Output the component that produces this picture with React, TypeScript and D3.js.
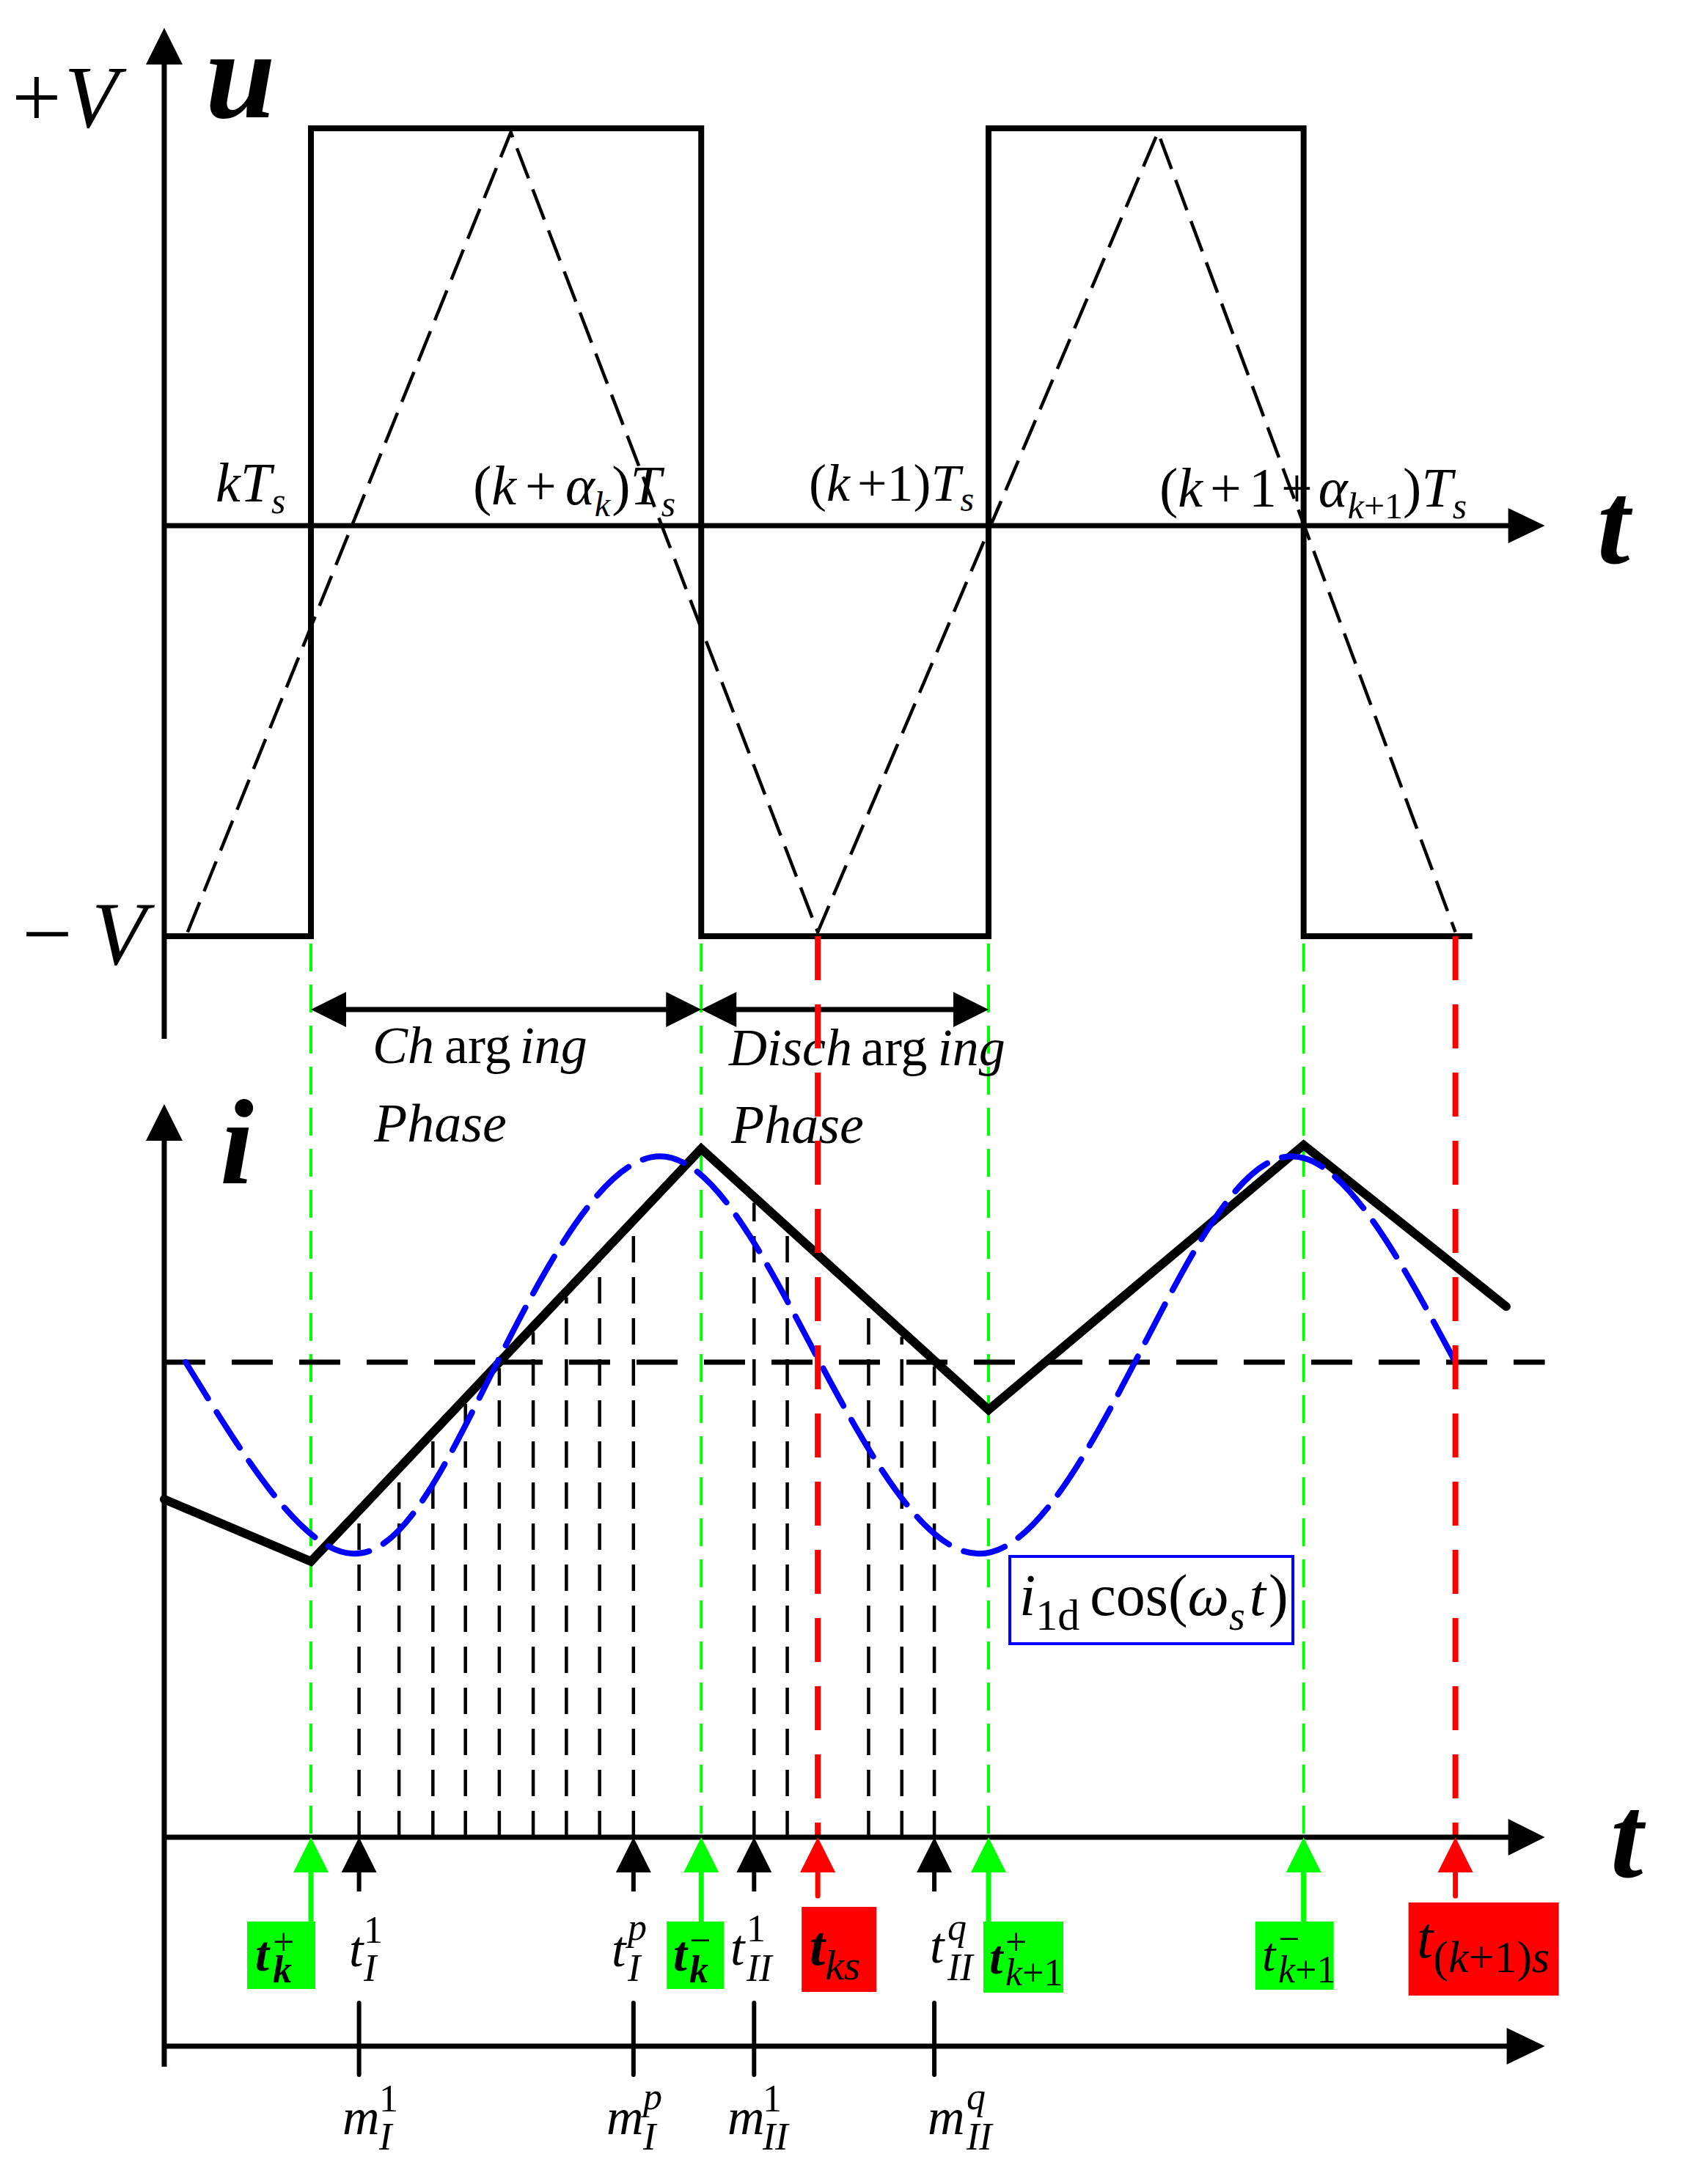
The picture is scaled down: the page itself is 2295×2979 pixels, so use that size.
import React from 'react';
import * as d3 from 'd3';

const W = 2295;
const H = 2979;
const SERIF = '"Liberation Serif", "Times New Roman", serif';
const GREEN = '#00ff00';
const RED = '#ff0000';
const BLUE = '#0000ff';

// time in units of Ts, 0 = kTs
const axisT = [-0.2165, 1.821];

// square-wave voltage u (±V)
const squareT = [-0.2165, 0, 0, 0.576, 0.576, 1, 1, 1.465, 1.465, 1.714];
const squareU = [-1, -1, 1, 1, -1, -1, 1, 1, -1, -1];

// triangular carrier (dashed)
const carrierT = [-0.182, 0.295, 0.748, 1.25, 1.689];
const carrierU = [-0.99, 0.99, -0.99, 0.99, -0.99];

// inductor current i (thick black)
const currentT = [-0.2165, 0, 0.576, 1, 1.465, 1.764];
const currentI = [-0.673, -0.978, 1.047, -0.234, 1.065, 0.273];

// i1d cos(ws t) key points (blue dashed)
const cosT = [-0.185, 0.063, 0.275, 0.515, 0.751, 0.986, 1.216, 1.446, 1.689];
const cosI = [0, -0.94, 0, 1.01, 0, -0.94, 0, 1.01, 0];

// sampling instants
const sampI = [0.071, 0.13, 0.18, 0.228, 0.278, 0.328, 0.377, 0.426, 0.476];
const sampII = [0.654, 0.703, 0.823, 0.872, 0.92];

// switching (green) and sync (red) instants
const switchT = [0, 0.576, 1, 1.465];
const syncT = [0.748, 1.689];

const x = d3.scaleLinear().domain([0, 1]).range([424, 1348]);
const yU = d3.scaleLinear().domain([-1, 0, 1]).range([1277, 717, 175]);
const yI = d3.scaleLinear().domain([0, 1]).range([1858, 1580]);
const currentAt = d3.scaleLinear().domain(currentT).range(currentI);

const AX = x(axisT[0]);
const AX_END = x(axisT[1]);
const T1_Y = yU(0);
const T2_Y = 2506;
const M_Y = 2791;

const headRight = (tx: number, y: number, len = 50, hw = 24) =>
  `${tx},${y} ${tx - len},${y - hw} ${tx - len},${y + hw}`;
const headLeft = (tx: number, y: number, len = 50, hw = 24) =>
  `${tx},${y} ${tx + len},${y - hw} ${tx + len},${y + hw}`;
const headUp = (px: number, ty: number, len = 50, hw = 24) =>
  `${px},${ty} ${px - hw},${ty + len} ${px + hw},${ty + len}`;

type Run = { s: string; i?: boolean; b?: boolean; fs?: number; sh?: number; dx?: number };

function MathText({ x: px, y, fs, runs, fill = '#000' }: { x: number; y: number; fs: number; runs: Run[]; fill?: string }) {
  let cur = 0;
  return (
    <text x={px} y={y} fontSize={fs} fontFamily={SERIF} fill={fill}>
      {runs.map((r, k) => {
        const sh = r.sh ?? 0;
        const dy = sh - cur;
        cur = sh;
        return (
          <tspan
            key={k}
            dx={r.dx}
            dy={dy !== 0 ? dy : undefined}
            fontSize={r.fs}
            fontStyle={r.i ? 'italic' : 'normal'}
            fontWeight={r.b ? 'bold' : 'normal'}
          >
            {r.s}
          </tspan>
        );
      })}
    </text>
  );
}

// base letter with stacked superscript / subscript
function Stack({ px, y, base, sup, sub, fs, sfs, sdx, supY, subY, b = false }: {
  px: number; y: number; base: string; sup: Run[]; sub: Run[]; fs: number; sfs: number;
  sdx: number; supY: number; subY: number; b?: boolean;
}) {
  return (
    <g>
      <MathText x={px} y={y} fs={fs} runs={[{ s: base, i: true, b }]} />
      <MathText x={px + sdx} y={supY} fs={sfs} runs={sup} />
      <MathText x={px + sdx} y={subY} fs={sfs} runs={sub} />
    </g>
  );
}

export default function App() {
  const sqPath = d3.line()(squareT.map((t, k) => [x(t), yU(squareU[k])]) as [number, number][]);
  const carPath = d3.line()(carrierT.map((t, k) => [x(t), yU(carrierU[k])]) as [number, number][]);
  const curPath = d3.line()(currentT.map((t, k) => [x(t), yI(currentI[k])]) as [number, number][]);
  const cosPath = d3.line().curve(d3.curveNatural)(cosT.map((t, k) => [x(t), yI(cosI[k])]) as [number, number][]);

  const samples = [...sampI, ...sampII];
  const markT = [sampI[0], sampI[sampI.length - 1], sampII[0], sampII[sampII.length - 1]];
  const chY = 1377;

  return (
    <svg width={W} height={H} viewBox={`0 0 ${W} ${H}`} style={{ position: 'absolute', left: 0, top: 0, background: '#fff' }}>
      <rect width={W} height={H} fill="#fff" />

      {/* ---------- upper panel ---------- */}
      <line x1={AX} y1={1417} x2={AX} y2={80} stroke="#000" strokeWidth={7} />
      <polygon points={headUp(AX, 38, 50, 25)} fill="#000" />
      <line x1={AX} y1={T1_Y} x2={AX_END - 40} y2={T1_Y} stroke="#000" strokeWidth={7} />
      <polygon points={headRight(AX_END, T1_Y, 50, 24)} fill="#000" />

      <path d={carPath || ''} fill="none" stroke="#000" strokeWidth={4.5} strokeDasharray="44,16" />
      <path d={sqPath || ''} fill="none" stroke="#000" strokeWidth={8} strokeLinejoin="miter" />

      <MathText x={16} y={173} fs={120} runs={[{ s: '+' }, { s: 'V', i: true, dx: 4 }]} />
      <MathText x={30} y={1315} fs={122} runs={[{ s: '\u2212' }, { s: 'V', i: true, dx: 26 }]} />
      <MathText x={280} y={160} fs={172} runs={[{ s: 'u', i: true, b: true }]} />
      <MathText x={2178} y={768} fs={160} runs={[{ s: 't', i: true, b: true }]} />

      <MathText x={294} y={684} fs={76} runs={[{ s: 'k', i: true }, { s: 'T', i: true }, { s: 's', i: true, fs: 50, sh: 16 }]} />
      <MathText
        x={645}
        y={688}
        fs={76}
        runs={[
          { s: '(' }, { s: 'k', i: true }, { s: '+', dx: 12 }, { s: '\u03b1', i: true, dx: 12 },
          { s: 'k', i: true, fs: 48, sh: 16 }, { s: ')', dx: 2 }, { s: 'T', i: true }, { s: 's', i: true, fs: 50, sh: 16 },
        ]}
      />
      <MathText
        x={1103}
        y={683}
        fs={72}
        runs={[
          { s: '(' }, { s: 'k', i: true }, { s: '+', dx: 10 }, { s: '1' }, { s: ')' },
          { s: 'T', i: true }, { s: 's', i: true, fs: 48, sh: 14 },
        ]}
      />
      <MathText
        x={1581}
        y={691}
        fs={76}
        runs={[
          { s: '(' }, { s: 'k', i: true }, { s: '+', dx: 10 }, { s: '1', dx: 10 }, { s: '+', dx: 6 },
          { s: '\u03b1', i: true, dx: 8 }, { s: 'k', i: true, fs: 50, sh: 16 }, { s: '+1', fs: 50, sh: 16 },
          { s: ')' }, { s: 'T', i: true }, { s: 's', i: true, fs: 50, sh: 16 },
        ]}
      />

      {/* switching / sync guide lines */}
      {switchT.map((t) => (
        <line key={`g${t}`} x1={x(t)} y1={1287} x2={x(t)} y2={T2_Y} stroke={GREEN} strokeWidth={4} strokeDasharray="38,18" />
      ))}

      {/* charging / discharging arrows */}
      <line x1={x(0) + 40} y1={chY} x2={x(switchT[1]) - 40} y2={chY} stroke="#000" strokeWidth={7} />
      <polygon points={headLeft(x(0), chY, 48, 24)} fill="#000" />
      <polygon points={headRight(x(switchT[1]), chY, 48, 24)} fill="#000" />
      <line x1={x(switchT[1]) + 40} y1={chY} x2={x(1) - 40} y2={chY} stroke="#000" strokeWidth={7} />
      <polygon points={headLeft(x(switchT[1]), chY, 48, 24)} fill="#000" />
      <polygon points={headRight(x(1), chY, 48, 24)} fill="#000" />

      <MathText x={508} y={1450} fs={72} runs={[{ s: 'Ch', i: true }, { s: 'arg', dx: 14 }, { s: 'ing', i: true, dx: 12 }]} />
      <MathText x={510} y={1557} fs={74} runs={[{ s: 'Phase', i: true }]} />
      <MathText x={994} y={1453} fs={72} runs={[{ s: 'Disch', i: true }, { s: 'arg', dx: 12 }, { s: 'ing', i: true, dx: 14 }]} />
      <MathText x={997} y={1559} fs={74} runs={[{ s: 'Phase', i: true }]} />

      {/* ---------- lower panel ---------- */}
      <line x1={AX} y1={2819} x2={AX} y2={1546} stroke="#000" strokeWidth={7} />
      <polygon points={headUp(AX, 1506, 50, 25)} fill="#000" />
      <MathText x={300} y={1614} fs={165} runs={[{ s: 'i', i: true, b: true }]} />

      <line x1={AX} y1={yI(0)} x2={AX_END} y2={yI(0)} stroke="#000" strokeWidth={7} strokeDasharray="56,36" />

      {samples.map((t) => (
        <line
          key={`s${t}`}
          x1={x(t)}
          y1={T2_Y}
          x2={x(t)}
          y2={yI(currentAt(t)) + 8}
          stroke="#000"
          strokeWidth={4.5}
          strokeDasharray="36,20"
        />
      ))}

      <path d={curPath || ''} fill="none" stroke="#000" strokeWidth={12} strokeLinejoin="miter" strokeLinecap="round" />
      <path d={cosPath || ''} fill="none" stroke={BLUE} strokeWidth={8} strokeDasharray="58,22" strokeLinecap="round" />

      {syncT.map((t) => (
        <line key={`r${t}`} x1={x(t)} y1={1277} x2={x(t)} y2={T2_Y} stroke={RED} strokeWidth={8} strokeDasharray="60,33" />
      ))}

      <rect x={1377} y={2123} width={386} height={119} fill="#fff" stroke={BLUE} strokeWidth={4} />
      <MathText
        x={1390}
        y={2203}
        fs={80}
        runs={[
          { s: 'i', i: true }, { s: '1d', fs: 60, sh: 20 }, { s: 'cos', dx: 14 }, { s: '(' },
          { s: '\u03c9', i: true }, { s: 's', i: true, fs: 56, sh: 20 }, { s: 't', i: true, dx: 6 }, { s: ')', dx: 4 },
        ]}
      />

      {/* sampling time axis */}
      <line x1={AX} y1={T2_Y} x2={AX_END - 40} y2={T2_Y} stroke="#000" strokeWidth={7} />
      <polygon points={headRight(AX_END, T2_Y, 50, 25)} fill="#000" />
      <MathText x={2196} y={2560} fs={160} runs={[{ s: 't', i: true, b: true }]} />

      {markT.map((t) => (
        <g key={`m${t}`}>
          <line x1={x(t)} y1={T2_Y + 40} x2={x(t)} y2={2580} stroke="#000" strokeWidth={6} />
          <polygon points={headUp(x(t), T2_Y, 48, 24)} fill="#000" />
          <line x1={x(t)} y1={2732} x2={x(t)} y2={2830} stroke="#000" strokeWidth={6} strokeLinecap="round" />
        </g>
      ))}
      {switchT.map((t) => (
        <g key={`ga${t}`}>
          <line x1={x(t)} y1={T2_Y + 40} x2={x(t)} y2={2621} stroke={GREEN} strokeWidth={7} />
          <polygon points={headUp(x(t), T2_Y, 48, 24)} fill={GREEN} />
        </g>
      ))}
      {syncT.map((t) => (
        <g key={`ra${t}`}>
          <line x1={x(t)} y1={T2_Y + 40} x2={x(t)} y2={2586} stroke={RED} strokeWidth={7} strokeLinecap="round" />
          <polygon points={headUp(x(t), T2_Y, 48, 24)} fill={RED} />
        </g>
      ))}

      {/* green / red boxes */}
      <rect x={x(switchT[0]) - 87} y={2621} width={93} height={92} fill={GREEN} />
      <Stack px={348} y={2688} base="t" b fs={68} sfs={52} sdx={24} supY={2666}
        sup={[{ s: '+' }]} sub={[{ s: 'k', i: true, b: true }]} subY={2704} />

      <rect x={x(switchT[1]) - 47} y={2621} width={78} height={92} fill={GREEN} />
      <Stack px={918} y={2688} base="t" b fs={68} sfs={52} sdx={22} supY={2664}
        sup={[{ s: '\u2212' }]} sub={[{ s: 'k', i: true, b: true }]} subY={2704} />

      <rect x={x(syncT[0]) - 22} y={2601} width={102} height={116} fill={RED} />
      <MathText x={1104} y={2680} fs={76} runs={[{ s: 't', i: true, b: true }, { s: 'ks', i: true, fs: 58, sh: 20 }]} />

      <rect x={x(switchT[2]) - 7} y={2621} width={109} height={97} fill={GREEN} />
      <Stack px={1349} y={2692} base="t" b fs={66} sfs={52} sdx={22} supY={2666}
        sup={[{ s: '+' }]} sub={[{ s: 'k', i: true }, { s: '+1' }]} subY={2708} />

      <rect x={x(switchT[3]) - 66} y={2621} width={107} height={93} fill={GREEN} />
      <Stack px={1721} y={2688} base="t" fs={66} sfs={52} sdx={22} supY={2662}
        sup={[{ s: '\u2212' }]} sub={[{ s: 'k', i: true }, { s: '+1' }]} subY={2704} />

      <rect x={x(syncT[1]) - 64} y={2595} width={205} height={127} fill={RED} />
      <MathText
        x={1932}
        y={2670}
        fs={80}
        runs={[{ s: 't', i: true }, { s: '(', fs: 62, sh: 20 }, { s: 'k', i: true, fs: 62, sh: 20 }, { s: '+1)', fs: 62, sh: 20 }, { s: 's', i: true, fs: 62, sh: 20 }]}
      />

      {/* sample labels */}
      <Stack px={476} y={2682} base="t" fs={70} sfs={52} sdx={20} supY={2650} subY={2702}
        sup={[{ s: '1' }]} sub={[{ s: 'I', i: true }]} />
      <Stack px={834} y={2682} base="t" fs={70} sfs={52} sdx={22} supY={2646} subY={2702}
        sup={[{ s: 'p', i: true }]} sub={[{ s: 'I', i: true }]} />
      <Stack px={996} y={2680} base="t" fs={70} sfs={52} sdx={22} supY={2648} subY={2702}
        sup={[{ s: '1' }]} sub={[{ s: 'II', i: true }]} />
      <Stack px={1268} y={2677} base="t" fs={70} sfs={52} sdx={24} supY={2646} subY={2701}
        sup={[{ s: 'q', i: true }]} sub={[{ s: 'II', i: true }]} />

      {/* m axis */}
      <line x1={AX} y1={M_Y} x2={AX_END - 40} y2={M_Y} stroke="#000" strokeWidth={7} />
      <polygon points={headRight(AX_END, M_Y, 52, 25)} fill="#000" />

      <Stack px={467} y={2911} base="m" fs={70} sfs={52} sdx={50} supY={2880} subY={2932}
        sup={[{ s: '1' }]} sub={[{ s: 'I', i: true }]} />
      <Stack px={827} y={2911} base="m" fs={70} sfs={52} sdx={50} supY={2877} subY={2932}
        sup={[{ s: 'p', i: true }]} sub={[{ s: 'I', i: true }]} />
      <Stack px={992} y={2911} base="m" fs={70} sfs={52} sdx={48} supY={2880} subY={2932}
        sup={[{ s: '1' }]} sub={[{ s: 'II', i: true }]} />
      <Stack px={1265} y={2911} base="m" fs={70} sfs={52} sdx={53} supY={2877} subY={2932}
        sup={[{ s: 'q', i: true }]} sub={[{ s: 'II', i: true }]} />
    </svg>
  );
}
